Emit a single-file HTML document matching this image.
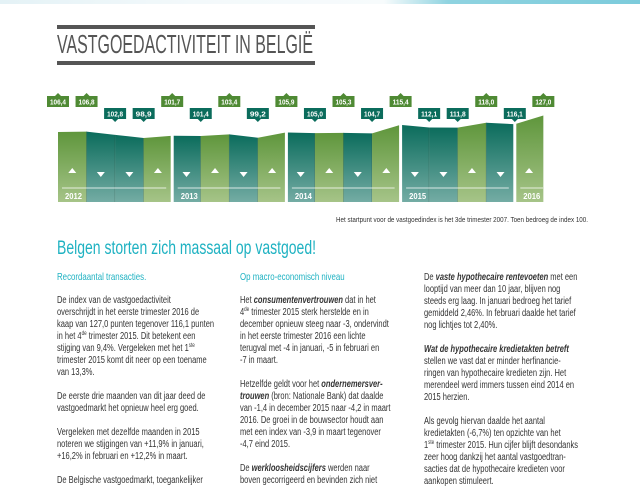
<!DOCTYPE html>
<html><head><meta charset="utf-8">
<style>
body{margin:0;width:640px;height:480px;overflow:hidden;background:#fff;position:relative;font-family:"Liberation Sans",sans-serif;}
.top{position:absolute;left:0;top:0;width:640px;height:4px;background:linear-gradient(90deg,#e4f2f6 0%,#f3f9fb 30%,#f7fbfc 60%,#8fd3e0 70%,#7ccbdb 100%);}
.bar{position:absolute;left:57px;width:258px;height:4px;background:#555;}
.col{position:absolute;font-size:10px;line-height:12px;color:#333;transform:scaleX(0.75);transform-origin:left top;white-space:nowrap;}
.col div{height:12px;}
.sub{color:#1fb2c2;font-size:10.5px;}
b{font-style:italic;}
sup{font-size:6px;line-height:0;vertical-align:4px;}
</style></head><body>
<div class="top"></div>
<div class="bar" style="top:25px"></div>
<div class="bar" style="top:61px"></div>
<svg style="position:absolute;left:0;top:0" width="640" height="260">
<defs>
<linearGradient id="g" x1="0" y1="0" x2="0" y2="1"><stop offset="0" stop-color="#5f963c"/><stop offset="1" stop-color="#a6c488"/></linearGradient>
<linearGradient id="t" x1="0" y1="0" x2="0" y2="1"><stop offset="0" stop-color="#0b6c5c"/><stop offset="1" stop-color="#74aca4"/></linearGradient>
</defs>
<text x="57" y="53" font-size="26" fill="#555" textLength="256" lengthAdjust="spacingAndGlyphs">VASTGOEDACTIVITEIT IN BELGIË</text>
<text x="57" y="254" font-size="19" fill="#1fb2c2" textLength="259" lengthAdjust="spacingAndGlyphs">Belgen storten zich massaal op vastgoed!</text>
<text x="336" y="222" font-size="7" fill="#333" textLength="252" lengthAdjust="spacingAndGlyphs">Het startpunt voor de vastgoedindex is het 3de trimester 2007. Toen bedroeg de index 100.</text>
<g id="bars"></g>
</svg>
<script>
var v=[106.4,106.8,102.8,98.9,101.7,101.4,103.4,99.2,105.9,105.0,105.3,104.7,115.4,112.1,111.8,118.0,116.1,127.0];
var lbl=["106,4","106,8","102,8","98,9","101,7","101,4","103,4","99,2","105,9","105,0","105,3","104,7","115,4","112,1","111,8","118,0","116,1","127,0"];
function X(i){return 58+i*28.55;}
function Y(a){return 132-(a-106.4)*0.8;}
var s="";
for(var i=0;i<17;i++){
 var x0=X(i),x1=X(i+1),up=v[i+1]>=v[i];
 var l=x0+(i%4==0&&i>0?1.5:0), r=x1-((i+1)%4==0?1.5:0);
 var y0=Y(v[i])+(Y(v[i+1])-Y(v[i]))*(l-x0)/(x1-x0), y1=Y(v[i])+(Y(v[i+1])-Y(v[i]))*(r-x0)/(x1-x0);
 s+='<polygon points="'+l+','+y0+' '+r+','+y1+' '+r+',202 '+l+',202" fill="url(#'+(up?'g':'t')+')"/>';
 if((i+1)%4!=0&&i<16) s+='<line x1="'+x1+'" y1="'+Y(v[i+1])+'" x2="'+x1+'" y2="202" stroke="#2c4a3c" stroke-width="0.7" opacity="0.6"/>';
 var cx=(x0+x1)/2;
 if(up) s+='<polygon points="'+(cx-4)+',173 '+(cx+4)+',173 '+cx+',168" fill="#fff"/>';
 else s+='<polygon points="'+(cx-4)+',172 '+(cx+4)+',172 '+cx+',177" fill="#fff"/>';
}
var yrs=["2012","2013","2014","2015","2016"];
for(var k=0;k<5;k++){
 var a=X(4*k)+(k>0?1.5:0)+4, b=k<4?X(4*k+4)-6:543;
 s+='<line x1="'+a+'" y1="188" x2="'+b+'" y2="188" stroke="#fff" stroke-width="0.8"/>';
 s+='<text x="'+(a+3)+'" y="199" font-size="8" fill="#fff" font-weight="bold" textLength="17" lengthAdjust="spacingAndGlyphs">'+yrs[k]+'</text>';
}
for(var i=0;i<18;i++){
 var x=X(i),up=i==0||v[i]>=v[i-1];
 var c=up?'#4f8a34':'#0b6c5c', y=up?96:108;
 s+='<rect x="'+(x-11)+'" y="'+y+'" width="22" height="11" fill="'+c+'"/>';
 if(up) s+='<polygon points="'+(x-3)+','+y+' '+(x+3)+','+y+' '+x+','+(y-3)+'" fill="'+c+'"/>';
 else s+='<polygon points="'+(x-3)+','+(y+11)+' '+(x+3)+','+(y+11)+' '+x+','+(y+14)+'" fill="'+c+'"/>';
 s+='<text x="'+x+'" y="'+(y+8.5)+'" text-anchor="middle" font-size="7.5" fill="#fff" font-weight="bold" textLength="16" lengthAdjust="spacingAndGlyphs">'+lbl[i]+'</text>';
}
document.getElementById('bars').innerHTML=s;
</script>
<div class="col" style="left:57px;top:271px">
<div class="sub">Recordaantal transacties.</div><div></div>
<div>De index van de vastgoedactiviteit</div>
<div>overschrijdt in het eerste trimester 2016 de</div>
<div>kaap van 127,0 punten tegenover 116,1 punten</div>
<div>in het 4<sup>de</sup> trimester 2015. Dit betekent een</div>
<div>stijging van 9,4%. Vergeleken met het 1<sup>ste</sup></div>
<div>trimester 2015 komt dit neer op een toename</div>
<div>van 13,3%.</div><div></div>
<div>De eerste drie maanden van dit jaar deed de</div>
<div>vastgoedmarkt het opnieuw heel erg goed.</div><div></div>
<div>Vergeleken met dezelfde maanden in 2015</div>
<div>noteren we stijgingen van +11,9% in januari,</div>
<div>+16,2% in februari en +12,2% in maart.</div><div></div>
<div>De Belgische vastgoedmarkt, toegankelijker</div>
</div>
<div class="col" style="left:240px;top:271px">
<div class="sub">Op macro-economisch niveau</div><div></div>
<div>Het <b>consumentenvertrouwen</b> dat in het</div>
<div>4<sup>de</sup> trimester 2015 sterk herstelde en in</div>
<div>december opnieuw steeg naar -3, ondervindt</div>
<div>in het eerste trimester 2016 een lichte</div>
<div>terugval met -4 in januari, -5 in februari en</div>
<div>-7 in maart.</div><div></div>
<div>Hetzelfde geldt voor het <b>ondernemersver-</b></div>
<div><b>trouwen</b> (bron: Nationale Bank) dat daalde</div>
<div>van -1,4 in december 2015 naar -4,2 in maart</div>
<div>2016. De groei in de bouwsector houdt aan</div>
<div>met een index van -3,9 in maart tegenover</div>
<div>-4,7 eind 2015.</div><div></div>
<div>De <b>werkloosheidscijfers</b> werden naar</div>
<div>boven gecorrigeerd en bevinden zich niet</div>
</div>
<div class="col" style="left:424px;top:272px">
<div>De <b>vaste hypothecaire rentevoeten</b> met een</div>
<div>looptijd van meer dan 10 jaar, blijven nog</div>
<div>steeds erg laag. In januari bedroeg het tarief</div>
<div>gemiddeld 2,46%. In februari daalde het tarief</div>
<div>nog lichtjes tot 2,40%.</div><div></div>
<div><b>Wat de hypothecaire kredietakten betreft</b></div>
<div>stellen we vast dat er minder herfinancie-</div>
<div>ringen van hypothecaire kredieten zijn. Het</div>
<div>merendeel werd immers tussen eind 2014 en</div>
<div>2015 herzien.</div><div></div>
<div>Als gevolg hiervan daalde het aantal</div>
<div>kredietakten (-6,7%) ten opzichte van het</div>
<div>1<sup>ste</sup> trimester 2015. Hun cijfer blijft desondanks</div>
<div>zeer hoog dankzij het aantal vastgoedtran-</div>
<div>sacties dat de hypothecaire kredieten voor</div>
<div>aankopen stimuleert.</div>
</div>
</body></html>
